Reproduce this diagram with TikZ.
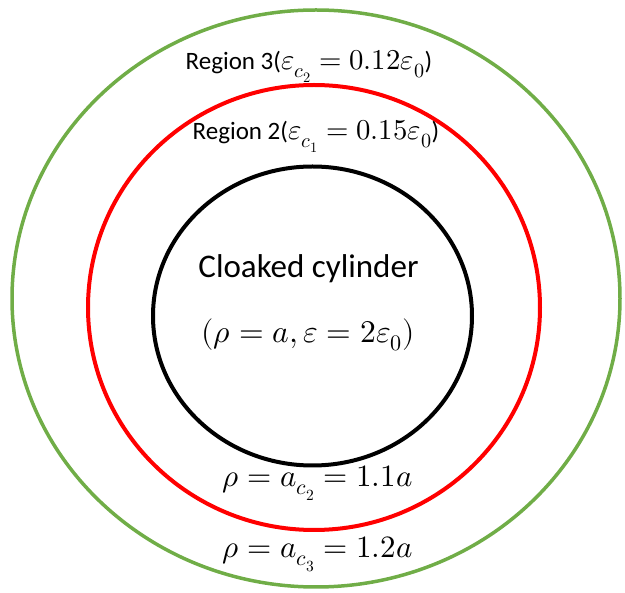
\documentclass[tikz,border=0pt]{standalone}
\usepackage{fontspec}
\usepackage{unicode-math}
\setmainfont{Carlito}
\setmathfont{Latin Modern Math}[Scale=1.15]
\definecolor{ringgreen}{RGB}{112,173,71}
\begin{document}
\begin{tikzpicture}[x=1pt, y=-1pt, every node/.style={inner sep=0pt, anchor=base},
    ring/.style={line width=4pt},
    small/.style={font=\fontsize{25}{30}\selectfont},
    big/.style={font=\fontsize{33}{38}\selectfont}]
            \useasboundingbox (0,0) rectangle (625,593);

            % the three boundaries
            \draw[ring, ringgreen, line width=3.5pt] (316,298.5) ellipse [x radius=304pt, y radius=288.5pt];
            \draw[ring, red] (314,307.5) ellipse [x radius=226pt, y radius=222.5pt];
            \draw[ring, black] (312.5,316) ellipse [x radius=159.5pt, y radius=149.5pt];

            \node[small] (region3) at (309,70) {Region 3($\varepsilon_{c_2}=0.12\varepsilon_0$)};
            \node[small] (region2) at (316,140) {Region 2($\varepsilon_{c_1}=0.15\varepsilon_0$)};

            \node[big] (cyl) at (308.5,278) {Cloaked cylinder};
            \node[big, font=\fontsize{27.5}{33}\selectfont] (cylpar) at (308,343) {$(\rho=a,\varepsilon=2\varepsilon_0)$};

            \node[small, font=\fontsize{27}{32}\selectfont] (rad2) at (317.5,487) {$\rho=a_{c_2}=1.1a$};
            \node[small, font=\fontsize{27}{32}\selectfont] (rad3) at (317.5,558) {$\rho=a_{c_3}=1.2a$};
        \end{tikzpicture}
\end{document}
